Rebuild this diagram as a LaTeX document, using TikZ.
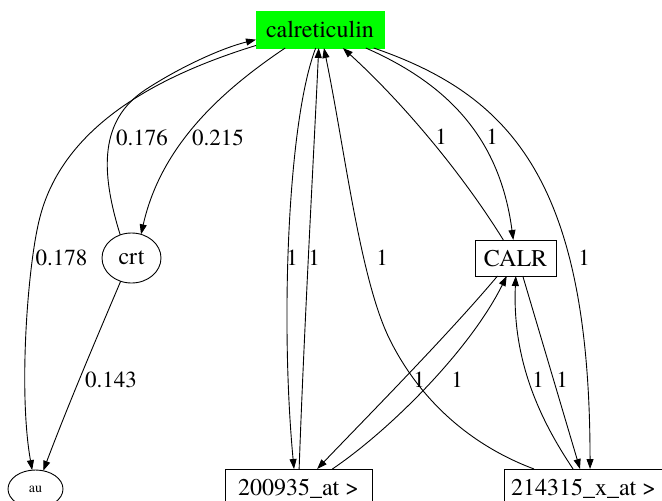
\documentclass[tikz,border=0pt]{standalone}
\usepackage{fontspec}
\setmainfont{texgyretermes}[Extension=.otf, UprightFont=*-regular, BoldFont=*-bold]
\usetikzlibrary{arrows.meta,shapes.geometric}
\begin{document}
\begin{tikzpicture}[x=1pt,y=-1pt,
  every node/.style={inner sep=0pt, outer sep=0pt},
  box/.style={draw, line width=0.9pt, rectangle, minimum height=36pt,
    text height=16.5pt, text depth=0pt, font=\rmfamily\fontsize{24}{28}\selectfont},
  oval/.style={draw, line width=0.9pt, ellipse},
  lbl/.style={font=\rmfamily\fontsize{23}{27}\selectfont},
  link/.style={line width=0.9pt, -{Triangle[length=10pt,width=7pt]}}
]
\useasboundingbox (0,0) rectangle (662,501);
\fill[white] (0,0) rectangle (662,501);

% nodes
\node[box, fill=green, draw=green, minimum width=128pt, minimum height=37pt] (cal) at (320,29.5) {calreticulin};
\node[oval, minimum width=59pt, minimum height=50pt, font=\rmfamily\fontsize{24}{28}\selectfont] (crt) at (131.5,258) {crt};
\node[oval, minimum width=55pt, minimum height=38pt, font=\rmfamily\fontsize{14}{16}\selectfont] (au) at (35.5,489) {au};
\node[box, minimum width=81pt] (CALR) at (515.5,258) {CALR};
\node[box, minimum width=147pt] (p200) at (298.5,487) {200935\_at >\hspace{9pt}};
\node[box, minimum width=159pt] (p214) at (583.5,487) {214315\_x\_at >};

% edges around crt and au
\draw[link] (cal.194.5) .. controls (170,72) and (65,120) .. (40,217)
  .. controls (28,262) and (18,390) .. (au.100.5);
\draw[link] (crt.116) .. controls (100,170) and (100,120) .. (145,90)
  .. controls (180,67) and (222,48) .. (cal.189.3);
\draw[link] (cal.208.5) .. controls (215,95) and (160,150) .. (crt.68);
\draw[link] (crt.245.8) .. controls (100,330) and (70,400) .. (au.67.7);

% edges between calreticulin and the probe sets
\draw[link] (cal.257.8) .. controls (288,120) and (280,320) .. (p200.104);
\draw[link] (p200.88.4) .. controls (304,330) and (314,150) .. (cal.266.9);
\draw[link] (p214.160.4) .. controls (470,445) and (420,400) .. (390,340)
  .. controls (360,280) and (345,150) .. (cal.282.2);
\draw[link] (cal.341.4) .. controls (510,95) and (590,180) .. (p214.70.1);

% edges between calreticulin and CALR
\draw[link] (CALR.124.8) .. controls (460,170) and (400,100) .. (cal.321.2);
\draw[link] (cal.338.1) .. controls (450,85) and (500,140) .. (CALR.97.9);

% edges between CALR and the probe sets
\draw[link] (CALR.225.8) .. controls (448,335) and (362,422) .. (p200.44.2);
\draw[link] (p200.28.25) .. controls (390,430) and (470,350) .. (CALR.244.7);
\draw[link] (p214.120.3) .. controls (540,420) and (512,360) .. (CALR.271.6);
\draw[link] (CALR.292.6) -- (p214.101);

% edge weights
\node[lbl] (w1) at (61.5,258) {0.178};
\node[lbl] (w2) at (142,138) {0.176};
\node[lbl] (w3) at (218,138) {0.215};
\node[lbl] (w4) at (111,380) {0.143};
\node[lbl] (w5) at (292,258) {1};
\node[lbl] (w6) at (314,258) {1};
\node[lbl] (w7) at (382,258) {1};
\node[lbl] (w8) at (441,137) {1};
\node[lbl] (w9) at (492,137) {1};
\node[lbl] (w10) at (584,258) {1};
\node[lbl] (w11) at (419,380) {1};
\node[lbl] (w12) at (457,380) {1};
\node[lbl] (w13) at (538,380) {1};
\node[lbl] (w14) at (562,380) {1};
\end{tikzpicture}
\end{document}
